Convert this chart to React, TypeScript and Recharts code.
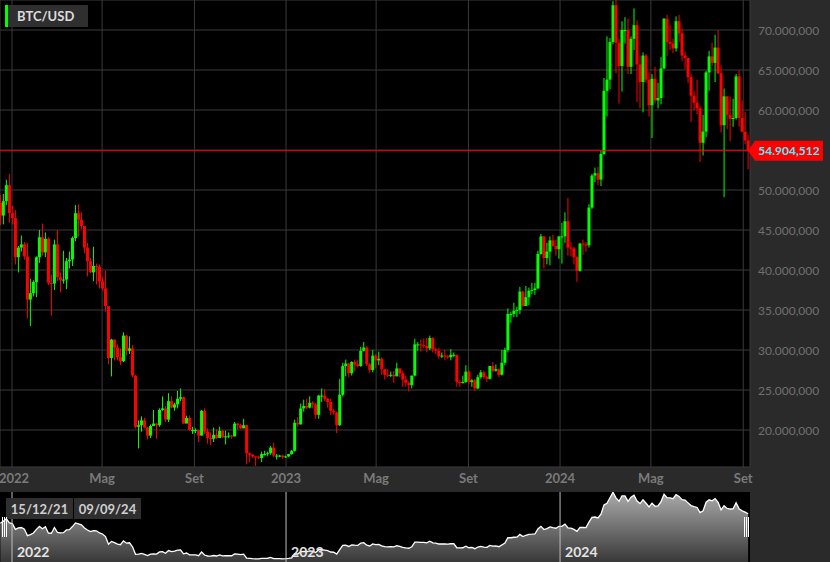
import React from 'react';
import { ComposedChart, Bar, Area, XAxis, YAxis, CartesianGrid, ReferenceLine } from 'recharts';

// BTC/USD, 4-day candles from 15/12/21 to 09/09/24 (values in thousands of USD)
const firstOpen = 48.4;
const closes = [
  46.8, 48.6, 50.6, 47.1, 46.5, 41.6, 42.8, 43.2, 41.7, 36.3,
  37.1, 38.5, 41.6, 44.1, 42.2, 43.9, 38.4, 38.3, 43.2, 39.1,
  38.7, 38.8, 41.1, 41.3, 44.0, 47.1, 46.3, 45.5, 42.8, 41.1,
  39.7, 40.5, 40.4, 38.6, 37.7, 35.5, 29.0, 31.3, 30.3, 29.1,
  28.6, 31.8, 29.9, 30.2, 26.8, 20.4, 20.6, 21.2, 20.3, 19.3,
  20.5, 20.8, 20.6, 22.5, 22.7, 21.3, 23.6, 22.8, 23.2, 23.9,
  24.1, 20.8, 21.5, 20.0, 20.0, 20.0, 19.3, 22.4, 19.8, 19.0,
  18.9, 19.4, 19.0, 19.9, 19.1, 19.2, 19.3, 19.2, 20.8, 20.6,
  20.2, 20.6, 17.1, 16.9, 16.7, 16.6, 16.5, 17.0, 17.0, 17.1,
  17.8, 16.8, 16.8, 16.8, 16.6, 16.7, 17.0, 17.4, 20.9, 20.7,
  22.7, 23.0, 22.8, 23.4, 23.2, 21.9, 24.3, 24.3, 23.9, 23.5,
  22.4, 22.2, 20.6, 24.4, 28.0, 28.3, 27.1, 28.5, 28.2, 28.0,
  29.9, 30.3, 28.2, 27.5, 29.3, 28.7, 28.9, 27.6, 26.9, 26.8,
  26.9, 26.7, 27.7, 27.1, 26.3, 25.9, 25.6, 26.8, 30.7, 30.7,
  30.6, 30.5, 30.2, 31.5, 30.1, 29.9, 29.2, 29.3, 29.2, 29.1,
  29.4, 29.4, 26.0, 25.9, 26.0, 27.3, 26.0, 26.2, 25.2, 26.6,
  27.2, 26.6, 26.4, 28.0, 27.4, 27.6, 26.9, 28.4, 30.0, 34.5,
  34.5, 34.9, 35.0, 37.3, 35.5, 36.6, 37.4, 37.5, 37.7, 42.0,
  44.2, 41.5, 42.3, 43.7, 43.0, 42.6, 44.2, 44.2, 46.1, 42.8,
  42.7, 41.6, 39.9, 43.3, 43.2, 43.1, 47.8, 51.8, 52.1, 51.3,
  54.5, 62.4, 63.8, 68.5, 73.1, 68.4, 65.5, 70.0, 70.0, 65.4,
  68.9, 70.6, 65.7, 63.5, 66.8, 63.8, 60.6, 63.9, 61.2, 61.5,
  65.2, 71.4, 68.5, 68.3, 67.7, 71.1, 69.6, 66.8, 66.5, 64.1,
  61.8, 60.9, 60.2, 55.9, 57.3, 64.7, 66.7, 65.9, 67.8, 64.6,
  58.1, 61.7, 59.4, 58.9, 59.0, 64.2, 59.0, 57.3, 56.2, 54.9,
];
const highs = [
  49.4, 49.5, 51.3, 52.0, 48.0, 47.5, 43.0, 44.3, 43.5, 43.4,
  38.9, 38.7, 41.7, 45.0, 45.8, 44.7, 44.1, 39.4, 43.8, 45.0,
  39.7, 42.4, 41.5, 42.3, 44.2, 48.1, 48.2, 47.2, 45.5, 43.4,
  41.5, 42.9, 40.8, 40.7, 39.1, 39.9, 35.5, 31.4, 31.3, 30.7,
  30.2, 32.2, 31.9, 31.7, 30.6, 26.9, 21.2, 21.7, 21.5, 20.4,
  20.7, 22.5, 20.9, 22.7, 24.2, 23.0, 24.6, 24.2, 23.4, 24.9,
  25.2, 24.2, 21.8, 21.8, 20.4, 20.2, 20.0, 22.5, 22.7, 20.2,
  19.7, 20.3, 20.1, 20.4, 20.0, 19.9, 19.7, 19.4, 21.0, 20.9,
  20.8, 21.4, 20.7, 17.2, 17.0, 16.7, 16.8, 17.3, 17.4, 17.3,
  18.0, 18.4, 17.0, 16.9, 16.9, 16.8, 17.0, 17.5, 21.3, 21.6,
  23.3, 23.8, 23.9, 24.2, 23.6, 23.4, 24.4, 25.2, 25.1, 24.0,
  23.9, 22.6, 22.3, 26.4, 28.4, 28.8, 28.4, 28.6, 28.8, 28.8,
  30.4, 31.0, 30.5, 28.4, 30.0, 29.5, 29.8, 29.1, 27.6, 27.6,
  27.3, 27.4, 28.4, 27.7, 27.4, 26.8, 26.1, 26.8, 31.4, 31.0,
  31.3, 31.4, 31.5, 31.8, 31.6, 30.3, 30.3, 29.7, 30.0, 29.4,
  30.1, 29.7, 29.4, 26.3, 26.8, 28.1, 27.5, 26.4, 26.4, 26.9,
  27.5, 27.4, 26.8, 28.0, 28.5, 28.2, 27.7, 30.0, 30.3, 35.2,
  34.8, 35.9, 35.4, 37.9, 37.4, 38.0, 37.8, 38.4, 38.4, 42.4,
  44.5, 44.2, 43.4, 44.2, 44.4, 43.8, 44.2, 45.9, 47.2, 49.0,
  43.5, 42.9, 41.7, 43.4, 43.8, 43.5, 48.2, 52.0, 52.8, 52.9,
  54.9, 64.0, 69.2, 69.0, 73.6, 73.8, 68.9, 71.1, 71.6, 71.4,
  69.2, 72.7, 71.2, 66.8, 67.2, 67.0, 64.7, 64.5, 65.4, 63.4,
  66.6, 71.5, 71.9, 70.6, 68.9, 71.7, 71.9, 70.2, 67.3, 66.0,
  64.5, 62.4, 63.8, 60.5, 59.4, 64.9, 67.4, 68.4, 69.4, 70.0,
  65.6, 62.7, 61.7, 61.6, 61.4, 64.5, 65.0, 61.2, 59.8, 56.9,
];
const lows = [
  45.6, 45.7, 48.1, 45.9, 45.7, 40.7, 39.7, 42.3, 41.3, 34.0,
  33.0, 36.7, 36.6, 40.9, 41.8, 41.6, 38.1, 34.3, 37.5, 38.6,
  37.2, 38.3, 37.6, 40.2, 40.5, 43.6, 44.2, 45.1, 42.1, 39.2,
  39.6, 38.6, 38.2, 37.7, 37.4, 34.8, 28.2, 26.7, 28.7, 28.7,
  28.1, 28.5, 29.3, 29.5, 26.6, 20.2, 17.7, 19.8, 20.2, 18.8,
  19.0, 20.6, 18.9, 20.4, 22.4, 21.0, 21.0, 22.7, 22.4, 22.7,
  23.6, 20.8, 20.9, 19.9, 19.5, 19.6, 18.5, 19.3, 19.5, 18.3,
  18.1, 18.5, 18.9, 19.0, 19.0, 18.2, 19.0, 18.9, 19.2, 20.0,
  20.1, 20.4, 15.7, 16.0, 16.5, 15.5, 16.4, 16.0, 16.8, 16.7,
  16.9, 16.6, 16.3, 16.6, 16.4, 16.5, 16.6, 16.9, 17.3, 20.4,
  20.7, 22.3, 22.6, 22.7, 22.7, 21.4, 21.4, 23.5, 23.6, 22.8,
  21.9, 21.9, 19.6, 20.5, 24.2, 26.7, 26.6, 26.8, 27.3, 27.8,
  27.9, 29.8, 28.0, 27.1, 27.2, 27.7, 28.1, 26.9, 26.3, 26.6,
  26.6, 25.9, 26.8, 26.6, 25.4, 25.4, 24.8, 25.2, 26.7, 29.9,
  29.8, 30.2, 29.7, 30.0, 29.7, 29.5, 28.9, 29.0, 28.7, 28.9,
  28.7, 29.1, 25.4, 25.4, 25.8, 25.9, 25.7, 25.4, 24.9, 25.1,
  26.4, 26.4, 26.0, 26.3, 27.2, 27.3, 26.6, 26.8, 28.1, 29.7,
  33.4, 34.1, 34.1, 34.5, 35.4, 35.5, 35.6, 37.0, 36.9, 37.6,
  41.9, 40.2, 40.7, 40.6, 42.9, 41.8, 41.4, 40.8, 43.4, 41.8,
  41.7, 40.7, 38.5, 39.8, 41.9, 42.3, 42.8, 47.6, 51.0, 50.6,
  50.5, 54.4, 59.2, 62.6, 68.2, 64.6, 60.8, 62.3, 68.3, 64.5,
  64.5, 67.5, 61.0, 60.2, 59.7, 63.4, 59.2, 56.5, 60.8, 60.2,
  60.7, 65.1, 66.7, 67.5, 67.1, 67.3, 68.5, 66.1, 65.1, 63.4,
  58.5, 60.0, 59.5, 53.5, 54.3, 56.6, 62.4, 65.5, 63.5, 64.5,
  57.2, 49.1, 57.6, 56.1, 57.9, 58.8, 57.9, 57.2, 55.7, 52.6,
];
const lastPrice = 54904.512;
const daysPerCandle = 4; // day 0 = 15/12/21

// axis labels
const tickDays = [17, 137, 260, 382, 502, 625, 747, 868, 991];
const tickLabels = ['2022', 'Mag', 'Set', '2023', 'Mag', 'Set', '2024', 'Mag', 'Set'];
const yTicks = [20, 25, 30, 35, 40, 45, 50, 55, 60, 65, 70];
const yearDays = [17, 382, 747];
const yearLabels = ['2022', '2023', '2024'];
const rangeLabels = ['15/12/21', '09/09/24'];
const symbol = 'BTC/USD';

const data = closes.map((c, i) => ({
  day: i * daysPerCandle + daysPerCandle / 2 - 0.5,
  open: i === 0 ? firstOpen : closes[i - 1],
  close: c,
  high: highs[i],
  low: lows[i],
}));

const FONT = 'Lato, "Open Sans", sans-serif';

const fmt = (v: number) => {
  const [i, d] = v.toFixed(3).split('.');
  return i.replace(/\B(?=(\d{3})+(?!\d))/g, '.') + ',' + d;
};

const Candle = (props: any) => {
  const { x, y, width, height, payload } = props;
  if (!payload || x == null || y == null) return null;
  const { open, close, high, low } = payload;
  const top = Math.min(y, y + height);
  const h = Math.abs(height);
  const range = high - low;
  const yOf = (v: number) => (range === 0 ? top : top + ((high - v) / range) * h);
  const color = close >= open ? '#00ff00' : '#ff0000';
  const cx = x + width / 2;
  const bt = yOf(Math.max(open, close));
  const bb = yOf(Math.min(open, close));
  return (
    <g>
      <line x1={cx} x2={cx} y1={top} y2={top + h} stroke={color} strokeWidth={1} />
      <rect x={cx - 1.5} y={bt} width={3} height={Math.max(1, bb - bt)} fill={color} />
    </g>
  );
};

const XTick = (props: any) => {
  const { x, y, payload } = props;
  const idx = tickDays.indexOf(payload.value);
  return (
    <text x={Math.max(x, 14)} y={y + 16} textAnchor="middle" fill="#7a7a7a" fontSize={13} fontWeight="bold" fontFamily={FONT}>
      {idx >= 0 ? tickLabels[idx] : ''}
    </text>
  );
};

const YTick = (props: any) => {
  const { x, y, payload } = props;
  // the price tag covers the label next to the last price
  if (Math.abs(payload.value - lastPrice / 1000) < 1.5) return <g />;
  return (
    <text x={x + 8} y={y + 4.5} textAnchor="start" fill="#707070" fontSize={12} fontFamily={FONT}>
      {fmt(payload.value * 1000)}
    </text>
  );
};

const PriceTag = (props: any) => {
  const vb = props.viewBox;
  if (!vb) return null;
  const y = vb.y;
  const xr = vb.x + vb.width;
  return (
    <g>
      <polygon
        points={`${xr - 2},${y} ${xr + 5},${y - 10} ${xr + 73},${y - 10} ${xr + 73},${y + 10} ${xr + 5},${y + 10}`}
        fill="#ff0000"
      />
      <text x={xr + 39} y={y + 4.5} textAnchor="middle" fill="#46f0ff" fontSize={12} fontWeight="bold" fontFamily={FONT}>
        {fmt(lastPrice)}
      </text>
    </g>
  );
};

const boxStyle: React.CSSProperties = {
  position: 'absolute',
  background: '#2f2f2f',
  color: '#cfcfcf',
  fontFamily: FONT,
  fontWeight: 'bold',
  fontSize: 13,
  display: 'flex',
  alignItems: 'center',
  justifyContent: 'center',
};

const Handle = ({ left }: { left: number }) => (
  <div style={{ position: 'absolute', left, top: 25, width: 6, height: 20 }}>
    {[0, 2, 4].map((o) => (
      <div key={o} style={{ position: 'absolute', left: o, top: 0, width: 1.2, height: 20, background: '#ffffff' }} />
    ))}
  </div>
);

export default function App() {
  return (
    <div
      style={{
        position: 'absolute',
        left: 0,
        top: 0,
        width: 830,
        height: 562,
        background: '#2a2a2a',
        overflow: 'hidden',
        fontFamily: FONT,
      }}
    >
      <ComposedChart width={830} height={492} data={data} margin={{ top: 0, right: 0, bottom: 0, left: 0 }}>
        <CartesianGrid fill="#000000" stroke="#3a3a3a" strokeWidth={1} />
        <XAxis
          dataKey="day"
          type="number"
          domain={[1, 1000]}
          ticks={tickDays}
          interval={0}
          tickLine={false}
          axisLine={false}
          tickSize={0}
          tickMargin={0}
          height={25}
          tick={(p: any) => <XTick {...p} />}
          allowDataOverflow
        />
        <YAxis
          orientation="right"
          type="number"
          width={80}
          domain={[15.375, 73.75]}
          ticks={yTicks}
          interval={0}
          tickLine={false}
          axisLine={false}
          tickSize={0}
          tickMargin={0}
          tick={(p: any) => <YTick {...p} />}
          allowDataOverflow
        />
        <Bar
          dataKey={(d: any) => [d.low, d.high]}
          barSize={3}
          shape={(p: any) => <Candle {...p} />}
          isAnimationActive={false}
        />
        <ReferenceLine y={lastPrice / 1000} stroke="#ff0000" strokeWidth={1} label={<PriceTag />} />
      </ComposedChart>

      <div
        style={{
          position: 'absolute',
          left: 5,
          top: 5,
          width: 83,
          height: 22,
          background: '#2f2f2f',
        }}
      >
        <div style={{ position: 'absolute', left: 0, top: 0, width: 3, height: 22, background: '#00ff00' }} />
        <div
          style={{
            position: 'absolute',
            left: 12,
            top: 0,
            height: 22,
            lineHeight: '22px',
            color: '#dcdcdc',
            fontWeight: 'bold',
            fontSize: 13,
            fontFamily: FONT,
          }}
        >
          {symbol}
        </div>
      </div>

      <div style={{ position: 'absolute', left: 0, top: 492, width: 750, height: 70, background: '#000000' }}>
        <ComposedChart width={750} height={70} data={data} margin={{ top: 0, right: 0, bottom: 0, left: 0 }}>
          <defs>
            <linearGradient id="navFill" x1="0" y1="0" x2="0" y2="1">
              <stop offset="0%" stopColor="#ababab" />
              <stop offset="100%" stopColor="#383838" />
            </linearGradient>
          </defs>
          <XAxis dataKey="day" type="number" domain={[1, 1000]} hide allowDataOverflow />
          <YAxis type="number" domain={[13.9, 73.35]} hide allowDataOverflow />
          <Area
            dataKey="close"
            type="linear"
            stroke="#ffffff"
            strokeWidth={1.3}
            fill="url(#navFill)"
            fillOpacity={1}
            dot={false}
            activeDot={false}
            isAnimationActive={false}
          />
          {yearDays.map((d, i) => (
            <ReferenceLine
              key={d}
              x={d}
              stroke="#bdbdbd"
              strokeWidth={1}
              label={{
                value: yearLabels[i],
                position: 'insideBottomLeft',
                offset: 5,
                fill: '#e4e4e4',
                fontSize: 14,
                fontWeight: 'bold',
                fontFamily: FONT,
              }}
            />
          ))}
        </ComposedChart>
        <div style={{ ...boxStyle, left: 6, top: 6, width: 67, height: 21 }}>{rangeLabels[0]}</div>
        <div style={{ ...boxStyle, left: 74, top: 6, width: 67, height: 21 }}>{rangeLabels[1]}</div>
        <Handle left={2} />
        <Handle left={744} />
      </div>
    </div>
  );
}
